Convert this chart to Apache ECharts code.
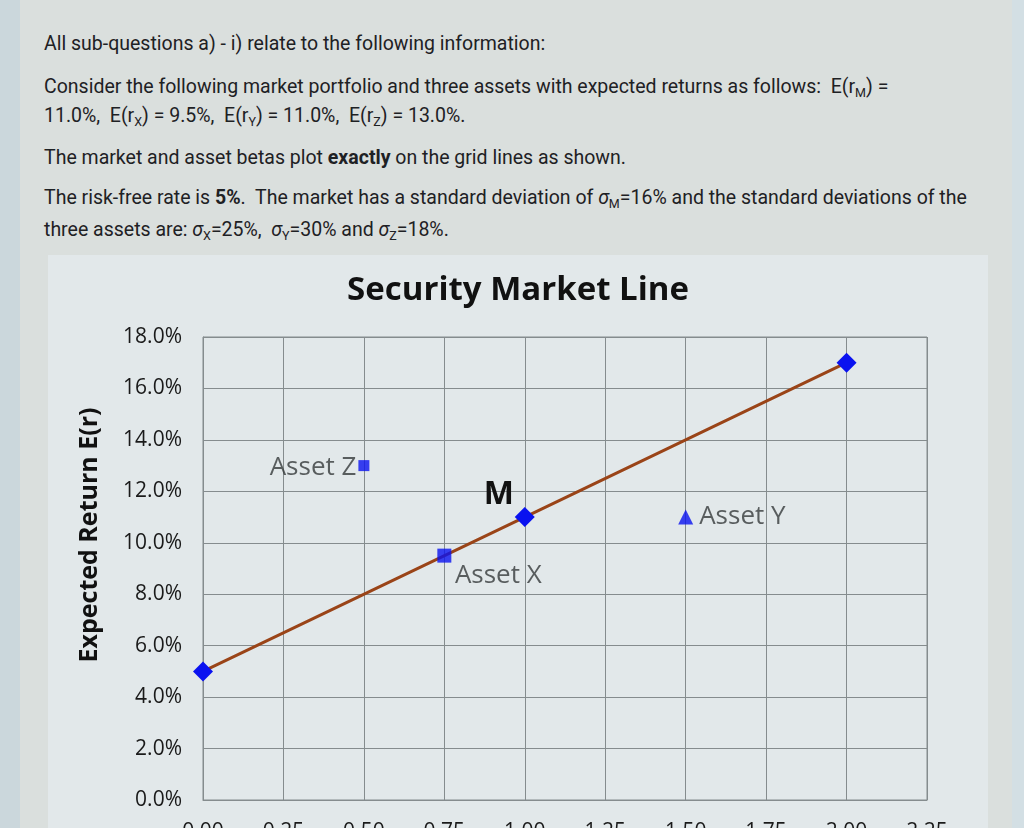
<!DOCTYPE html>
<html>
<head>
<meta charset="utf-8">
<script src="https://cdn.jsdelivr.net/npm/echarts@6/dist/echarts.min.js"></script>
<style>
  html, body { margin: 0; padding: 0; }
  body { width: 1024px; height: 828px; position: relative; overflow: hidden; background: #dadfdd; }
  .strip-l { position: absolute; left: 0; top: 0; width: 20px; height: 828px; background: #cbd7dc; }
  .strip-r { position: absolute; left: 1012px; top: 0; width: 12px; height: 828px; background: #d3dfe4; }
  .panel { position: absolute; left: 48px; top: 255px; width: 940px; height: 573px; background: #e2e8ea; }
  .txt { position: absolute; left: 44px; font-family: Roboto, sans-serif; font-size: 19.5px; color: #1e2124; white-space: nowrap; line-height: 22px; }
  .txt sub { font-size: 12.5px; vertical-align: -4px; }
  .sig { font-style: italic; }
  #chart { position: absolute; left: 0; top: 0; width: 1024px; height: 828px; }
</style>
</head>
<body>
<div class="strip-l"></div>
<div class="strip-r"></div>
<div class="panel"></div>
<div class="txt" style="top:33px">All sub-questions a) - i) relate to the following information:</div>
<div class="txt" style="top:76px">Consider the following market portfolio and three assets with expected returns as follows:&nbsp; E(r<sub>M</sub>) =</div>
<div class="txt" style="top:105px">11.0%,&nbsp; E(r<sub>X</sub>) = 9.5%,&nbsp; E(r<sub>Y</sub>) = 11.0%,&nbsp; E(r<sub>Z</sub>) = 13.0%.</div>
<div class="txt" style="top:147px">The market and asset betas plot <b>exactly</b> on the grid lines as shown.</div>
<div class="txt" style="top:187px">The risk-free rate is <b>5%</b>.&nbsp; The market has a standard deviation of <span class="sig">σ</span><sub>M</sub>=16% and the standard deviations of the</div>
<div class="txt" style="top:219px">three assets are: <span class="sig">σ</span><sub>X</sub>=25%,&nbsp; <span class="sig">σ</span><sub>Y</sub>=30% and <span class="sig">σ</span><sub>Z</sub>=18%.</div>
<div id="chart"></div>
<script>
// security market line points (beta, expected return %)
var smlBeta = [0, 1.0, 2.0];
var smlReturn = [5, 11, 17];
var marketName = 'M';
// assets
var assetNames = ['Asset X', 'Asset Y', 'Asset Z'];
var assetBeta = [0.75, 1.5, 0.5];
var assetReturn = [9.5, 11, 13];
// axes
var betaMax = 2.25, betaStep = 0.25;
var retMax = 18, retStep = 2;

var myChart = echarts.init(document.getElementById('chart'));
var gridColor = '#858c8e';
var labelFont = 'Open Sans';

var assetSymbols = ['rect', 'triangle', 'rect'];
var assetSizes = [14, 15, 11];
var assetLabelPos = ['bottom', 'right', 'left'];
var assetLabelOffset = [[54, -6], [0, 0], [4, 2]];

myChart.setOption({
    backgroundColor: 'transparent',
    animation: false,
    title: {
        text: 'Security Market Line',
        left: 513,
        top: 269,
        textAlign: 'center',
        textStyle: { fontFamily: labelFont, fontWeight: 'bold', fontSize: 33, color: '#111' }
    },
    graphic: [{
        type: 'text',
        x: 90,
        y: 535,
        rotation: Math.PI / 2,
        style: {
            text: 'Expected Return E(r)',
            fontFamily: labelFont, fontWeight: 'bold', fontSize: 25, fill: '#111',
            align: 'center', verticalAlign: 'middle'
        }
    }],
    grid: {
        left: 203, top: 337, width: 724, height: 463,
        containLabel: false, outerBoundsMode: 'none',
        show: true, borderColor: gridColor, borderWidth: 1
    },
    xAxis: {
        type: 'value', min: 0, max: betaMax, interval: betaStep,
        axisLine: { show: true, lineStyle: { color: gridColor } },
        axisTick: { show: false },
        splitLine: { show: true, lineStyle: { color: gridColor, width: 1 } },
        axisLabel: {
            margin: 22, fontFamily: labelFont, fontSize: 21, color: '#1a1a1a',
            formatter: function (v) { return v.toFixed(2); }
        }
    },
    yAxis: {
        type: 'value', min: 0, max: retMax, interval: retStep,
        axisLine: { show: true, lineStyle: { color: gridColor } },
        axisTick: { show: false },
        splitLine: { show: true, lineStyle: { color: gridColor, width: 1 } },
        axisLabel: {
            margin: 21, fontFamily: labelFont, fontSize: 21, color: '#1a1a1a',
            formatter: function (v) { return v.toFixed(1) + '%'; }
        }
    },
    series: [{
        type: 'line',
        data: smlBeta.map(function (b, i) { return [b, smlReturn[i]]; }),
        lineStyle: { color: '#9a4418', width: 3 },
        symbol: 'diamond',
        symbolSize: 20,
        itemStyle: { color: '#0a12f0' },
        label: {
            show: true,
            formatter: function (p) { return p.dataIndex === 1 ? marketName : ''; },
            position: 'top',
            offset: [-26, 9],
            fontFamily: labelFont, fontWeight: 'bold', fontSize: 32, color: '#111'
        },
        z: 3
    }, {
        type: 'scatter',
        data: assetBeta.map(function (b, i) {
            return {
                name: assetNames[i],
                value: [b, assetReturn[i]],
                symbol: assetSymbols[i],
                symbolSize: assetSizes[i],
                label: { position: assetLabelPos[i], offset: assetLabelOffset[i] }
            };
        }),
        itemStyle: { color: '#0a12f0' },
        label: {
            show: true,
            formatter: '{b}',
            distance: 6,
            fontFamily: labelFont, fontSize: 26, color: '#36393b'
        },
        z: 4
    }]
});
</script>
</body>
</html>
